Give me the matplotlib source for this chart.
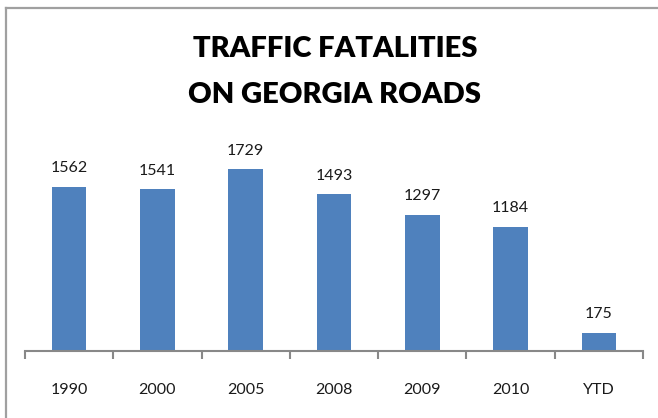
import matplotlib.pyplot as plt
from matplotlib.lines import Line2D

years = ["1990", "2000", "2005", "2008", "2009", "2010", "YTD"]
fatalities = [1562, 1541, 1729, 1493, 1297, 1184, 175]

W, H = 658, 418
fig = plt.figure(figsize=(W / 100, H / 100), dpi=100)
ax = fig.add_axes([25 / W, 67 / H, 618 / W, 210 / H])

x = range(len(years))
ax.bar(x, fatalities, width=0.39, color="#4f81bd", zorder=2)
for xi, v in zip(x, fatalities):
    ax.text(xi, v + 110, str(v), ha="center", va="bottom",
            fontsize=11.5, family="Lato", color="#1a1a1a")

ax.set_xlim(-0.5, len(years) - 0.5)
ax.set_ylim(0, 2000)
for side in ["top", "right", "left"]:
    ax.spines[side].set_visible(False)
ax.spines["bottom"].set_color("#888888")
ax.spines["bottom"].set_linewidth(1.5)
ax.set_yticks([])
ax.set_xticks(list(x))
ax.set_xticklabels(years, family="Lato", fontsize=11.5, color="#1a1a1a")
ax.tick_params(axis="x", which="major", length=0, pad=23)
ax.set_xticks([i - 0.5 for i in range(len(years) + 1)], minor=True)
ax.tick_params(axis="x", which="minor", length=6, width=1.5, color="#888888")

fig.text(335 / W, 1 - 72 / H, "TRAFFIC FATALITIES\nON GEORGIA ROADS",
         ha="center", va="center", fontsize=21, fontweight="heavy",
         family="Lato", linespacing=1.95, color="black")

# chart frame (top and left edges)
fig.add_artist(Line2D([6 / W, 1], [1 - 8 / H, 1 - 8 / H], color="#a0a0a0", lw=1.6))
fig.add_artist(Line2D([6 / W, 6 / W], [0, 1 - 8 / H], color="#a0a0a0", lw=1.6))

fig.savefig("out.png", dpi=100)
